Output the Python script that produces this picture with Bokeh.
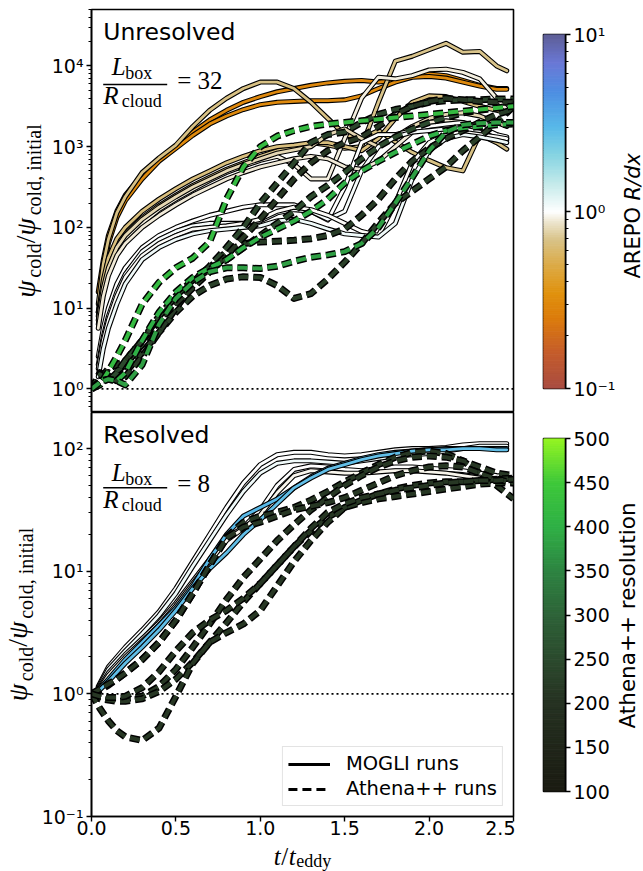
import numpy as np
from bokeh.plotting import figure
from bokeh.layouts import column, row
from bokeh.models import (FixedTicker, Label, Legend, LegendItem, Span, Range1d,
                          BoxAnnotation, NumeralTickFormatter)
from bokeh.embed import file_html
from bokeh.resources import INLINE

# ---------------------------------------------------------------------------
# Time samples, in units of t_eddy
# ---------------------------------------------------------------------------
t_mogli_32 = [0.04, 0.07, 0.1, 0.15, 0.2, 0.3, 0.4, 0.5, 0.6, 0.7, 0.8, 0.9, 1.0, 1.1,
              1.2, 1.3, 1.4, 1.5, 1.6, 1.7, 1.8, 1.9, 2.0, 2.1, 2.2, 2.3, 2.4, 2.46]
t_athena = [0.0, 0.05, 0.1, 0.15, 0.2, 0.3, 0.4, 0.5, 0.6, 0.7, 0.8, 0.9, 1.0, 1.1,
            1.2, 1.3, 1.4, 1.5, 1.6, 1.7, 1.8, 1.9, 2.0, 2.1, 2.2, 2.3, 2.4, 2.5]
t_mogli_8 = [0.04, 0.1, 0.2, 0.3, 0.4, 0.5, 0.6, 0.7, 0.8, 0.9, 1.0, 1.1, 1.2,
             1.3, 1.4, 1.5, 1.6, 1.7, 1.8, 1.9, 2.0, 2.1, 2.2, 2.3, 2.4, 2.46]

# ---------------------------------------------------------------------------
# Unresolved box (L_box / R_cloud = 32): log10(psi_cold / psi_cold,initial)
# MOGLI runs, each with its AREPO R/dx
# ---------------------------------------------------------------------------
u_orange_a = [1.20, 1.60, 1.90, 2.20, 2.40, 2.65, 2.85, 3.00, 3.18, 3.33, 3.45, 3.55, 3.62, 3.68,
              3.72, 3.76, 3.79, 3.81, 3.82, 3.80, 3.82, 3.87, 3.90, 3.88, 3.82, 3.76, 3.72, 3.72]
u_orange_b = [0.95, 1.45, 1.80, 2.12, 2.33, 2.60, 2.82, 2.98, 3.14, 3.28, 3.38, 3.46, 3.52, 3.55,
              3.56, 3.57, 3.57, 3.58, 3.63, 3.72, 3.80, 3.86, 3.87, 3.85, 3.80, 3.75, 3.71, 3.71]
u_tan_a = [1.05, 1.55, 1.85, 2.18, 2.38, 2.68, 2.86, 3.02, 3.25, 3.45, 3.60, 3.72, 3.80, 3.80,
           3.72, 3.55, 3.35, 3.15, 3.10, 3.20, 3.06, 2.93, 2.83, 2.74, 2.70, 3.15, 3.05, 2.97]
u_tan_b = [0.95, 1.30, 1.55, 1.78, 1.92, 2.12, 2.27, 2.40, 2.52, 2.62, 2.72, 2.80, 2.88, 2.95,
           3.00, 3.05, 3.02, 2.98, 3.00, 3.55, 4.06, 4.12, 4.20, 4.28, 4.17, 4.18, 4.00, 3.94]
u_cream = [0.80, 1.20, 1.45, 1.70, 1.85, 2.05, 2.22, 2.35, 2.47, 2.58, 2.68, 2.76, 2.83, 2.88,
           2.78, 2.60, 2.60, 3.10, 3.60, 3.86, 3.84, 3.88, 3.95, 3.96, 3.92, 3.84, 3.60, 3.46]
u_tan_c = [0.90, 1.35, 1.62, 1.86, 2.00, 2.20, 2.35, 2.48, 2.60, 2.70, 2.80, 2.88, 2.95, 3.00,
           3.02, 3.05, 3.05, 3.00, 2.95, 3.10, 3.35, 3.55, 3.63, 3.62, 3.56, 3.50, 3.45, 3.42]
u_beige = [0.85, 1.25, 1.50, 1.75, 1.90, 2.10, 2.25, 2.38, 2.50, 2.60, 2.70, 2.78, 2.85, 2.92,
           2.96, 3.00, 3.15, 3.22, 3.10, 3.00, 3.12, 3.25, 3.35, 3.40, 3.42, 3.38, 3.30, 3.25]
u_light = [0.75, 1.15, 1.40, 1.65, 1.80, 2.00, 2.15, 2.28, 2.40, 2.50, 2.60, 2.68, 2.75, 2.80,
           2.85, 2.88, 2.85, 2.75, 2.72, 2.82, 3.00, 3.18, 3.30, 3.32, 3.30, 3.20, 3.15, 3.10]
u_white_a = [0.40, 0.75, 1.00, 1.30, 1.50, 1.75, 1.90, 2.00, 2.08, 2.15, 2.20, 2.25, 2.28, 2.28,
             2.28, 2.20, 2.09, 2.50, 3.05, 3.15, 3.15, 3.20, 3.25, 3.28, 3.30, 3.25, 3.15, 3.12]
u_white_b = [0.30, 0.65, 0.90, 1.20, 1.42, 1.70, 1.85, 1.95, 2.02, 2.05, 2.05, 2.05, 2.08, 2.18,
             2.22, 2.20, 2.10, 2.20, 2.70, 3.00, 3.12, 3.18, 3.20, 3.22, 3.22, 3.18, 3.10, 3.08]
u_white_c = [0.25, 0.60, 0.85, 1.15, 1.38, 1.65, 1.80, 1.90, 1.98, 2.00, 2.02, 2.05, 2.10, 2.20,
             2.25, 2.22, 2.15, 2.05, 1.95, 1.90, 2.30, 2.80, 3.05, 3.15, 3.18, 3.15, 3.12, 3.10]
u_white_d = [0.15, 0.50, 0.75, 1.05, 1.30, 1.60, 1.75, 1.85, 1.92, 1.96, 1.98, 2.00, 2.02, 2.08,
             2.10, 2.05, 1.98, 1.92, 1.90, 1.88, 2.05, 2.60, 2.95, 3.10, 3.15, 3.12, 3.08, 3.05]

mogli_32_runs = [
    (0.3, u_orange_a), (0.31, u_orange_b), (0.68, u_tan_a), (0.7, u_tan_b),
    (0.92, u_cream), (0.66, u_tan_c), (0.8, u_beige), (0.9, u_light),
    (1.0, u_white_a), (1.05, u_white_b), (0.98, u_white_c), (1.1, u_white_d),
]

# Athena++ runs, each with its resolution
a32_bright_a = [0.00, 0.05, 0.22, 0.40, 0.60, 1.05, 1.32, 1.50, 1.62, 1.82, 2.35, 2.75, 3.00, 3.13,
                3.20, 3.25, 3.28, 3.30, 3.32, 3.34, 3.36, 3.38, 3.40, 3.42, 3.44, 3.46, 3.48, 3.50]
a32_bright_b = [0.00, 0.10, 0.12, 0.10, 0.20, 0.60, 0.95, 1.20, 1.38, 1.50, 1.60, 1.75, 1.88, 1.98,
                2.08, 2.20, 2.35, 2.55, 2.70, 2.82, 2.93, 3.03, 3.13, 3.20, 3.23, 3.25, 3.27, 3.28]
a32_bright_c = [0.00, 0.08, 0.12, 0.10, 0.05, 0.30, 0.80, 1.12, 1.32, 1.45, 1.50, 1.50, 1.49, 1.52,
                1.58, 1.63, 1.66, 1.70, 1.80, 2.00, 2.30, 2.62, 2.95, 3.18, 3.27, 3.29, 3.30, 3.30]
a32_dark_a = [0.00, 0.15, 0.20, 0.15, 0.20, 0.45, 0.70, 0.95, 1.15, 1.28, 1.36, 1.39, 1.38, 1.28,
              1.12, 1.18, 1.36, 1.57, 1.80, 2.06, 2.30, 2.45, 2.60, 2.75, 2.95, 3.12, 3.30, 3.50]
a32_dark_b = [0.00, 0.20, 0.15, 0.10, 0.15, 0.40, 0.70, 1.00, 1.28, 1.50, 1.70, 1.80, 1.82, 1.83,
              1.84, 1.86, 1.90, 1.98, 2.15, 2.35, 2.60, 2.82, 2.98, 3.10, 3.20, 3.30, 3.40, 3.46]
a32_dark_c = [0.00, 0.10, 0.20, 0.22, 0.30, 0.55, 0.85, 1.10, 1.32, 1.52, 1.75, 2.00, 2.30, 2.55,
              2.80, 3.05, 3.15, 3.18, 3.30, 3.40, 3.46, 3.50, 3.55, 3.57, 3.58, 3.58, 3.59, 3.59]
a32_dark_d = [0.00, 0.12, 0.25, 0.30, 0.35, 0.60, 0.85, 1.05, 1.25, 1.45, 1.65, 1.88, 2.10, 2.35,
              2.60, 2.80, 2.95, 3.05, 3.12, 3.25, 3.40, 3.50, 3.56, 3.60, 3.58, 3.56, 3.55, 3.55]
a32_dark_e = [0.00, 0.18, 0.10, 0.20, 0.35, 0.60, 0.90, 1.15, 1.35, 1.48, 1.60, 1.75, 1.90, 2.05,
              2.20, 2.38, 2.52, 2.68, 2.85, 3.00, 3.12, 3.22, 3.30, 3.36, 3.42, 3.45, 3.48, 3.50]

athena_32_runs = [
    (230, a32_dark_a), (220, a32_dark_b), (240, a32_dark_c), (210, a32_dark_d), (250, a32_dark_e),
    (420, a32_bright_a), (400, a32_bright_b), (380, a32_bright_c),
]

# ---------------------------------------------------------------------------
# Resolved box (L_box / R_cloud = 8)
# ---------------------------------------------------------------------------
r_white_a = [0.06, 0.22, 0.38, 0.52, 0.67, 0.86, 1.08, 1.30, 1.52, 1.72, 1.87, 1.95, 1.97,
             1.97, 1.95, 1.94, 1.95, 1.97, 1.99, 2.00, 2.00, 2.01, 2.03, 2.04, 2.04, 2.04]
r_white_b = [0.05, 0.20, 0.35, 0.49, 0.64, 0.82, 1.04, 1.25, 1.46, 1.65, 1.80, 1.88, 1.90,
             1.90, 1.89, 1.88, 1.90, 1.92, 1.94, 1.95, 1.96, 1.98, 2.00, 2.02, 2.02, 2.02]
r_white_c = [0.04, 0.17, 0.32, 0.45, 0.58, 0.74, 0.92, 1.10, 1.27, 1.36, 1.50, 1.70, 1.83,
             1.86, 1.85, 1.83, 1.82, 1.84, 1.85, 1.85, 1.84, 1.83, 1.82, 1.80, 1.78, 1.77]
r_white_d = [0.03, 0.15, 0.30, 0.43, 0.56, 0.72, 0.90, 1.08, 1.25, 1.35, 1.46, 1.64, 1.78,
             1.82, 1.81, 1.80, 1.80, 1.81, 1.82, 1.82, 1.81, 1.80, 1.78, 1.76, 1.75, 1.75]
r_blue_a = [0.03, 0.12, 0.28, 0.42, 0.56, 0.70, 0.88, 1.10, 1.30, 1.45, 1.52, 1.59, 1.68,
            1.77, 1.84, 1.88, 1.92, 1.95, 1.97, 1.98, 1.99, 2.00, 2.00, 2.00, 2.00, 2.00]
r_blue_b = [0.02, 0.10, 0.25, 0.38, 0.52, 0.68, 0.86, 1.02, 1.15, 1.30, 1.42, 1.55, 1.68,
            1.76, 1.83, 1.87, 1.91, 1.94, 1.96, 1.98, 1.99, 1.99, 2.00, 2.00, 1.99, 1.99]

mogli_8_runs = [
    (1.0, r_white_a), (1.1, r_white_b), (1.0, r_white_c), (0.95, r_white_d),
    (3.0, r_blue_a), (2.8, r_blue_b),
]

a8_a = [0.00, 0.03, 0.07, 0.12, 0.17, 0.28, 0.42, 0.60, 0.82, 1.05, 1.28, 1.40, 1.45, 1.48,
        1.52, 1.58, 1.65, 1.73, 1.80, 1.87, 1.93, 1.97, 1.98, 1.96, 1.90, 1.80, 1.70, 1.59]
a8_b = [0.00, -0.03, -0.04, -0.04, -0.04, -0.02, 0.06, 0.20, 0.38, 0.57, 0.77, 0.95, 1.10, 1.25,
        1.38, 1.50, 1.60, 1.70, 1.78, 1.85, 1.90, 1.93, 1.94, 1.93, 1.90, 1.85, 1.80, 1.78]
a8_c = [0.00, -0.04, -0.05, -0.06, -0.06, -0.04, 0.02, 0.12, 0.26, 0.42, 0.58, 0.75, 0.90, 1.05,
        1.20, 1.33, 1.44, 1.52, 1.58, 1.63, 1.67, 1.70, 1.72, 1.73, 1.73, 1.74, 1.75, 1.76]
a8_d = [0.00, -0.12, -0.22, -0.30, -0.35, -0.38, -0.28, -0.02, 0.25, 0.42, 0.50, 0.57, 0.68, 0.88,
        1.08, 1.25, 1.40, 1.52, 1.56, 1.59, 1.61, 1.63, 1.65, 1.67, 1.69, 1.71, 1.72, 1.72]
a8_e = [0.00, 0.04, 0.08, 0.12, 0.17, 0.28, 0.42, 0.60, 0.82, 1.05, 1.27, 1.36, 1.40, 1.45,
        1.50, 1.53, 1.56, 1.60, 1.66, 1.72, 1.78, 1.82, 1.85, 1.86, 1.85, 1.80, 1.75, 1.72]
a8_f = [0.00, -0.02, -0.03, -0.03, -0.02, 0.05, 0.18, 0.35, 0.50, 0.60, 0.68, 0.78, 0.90, 1.05,
        1.20, 1.35, 1.48, 1.55, 1.60, 1.63, 1.66, 1.68, 1.70, 1.72, 1.73, 1.74, 1.74, 1.75]

athena_8_runs = [(210, a8_a), (210, a8_b), (210, a8_c), (210, a8_d), (210, a8_e), (210, a8_f)]

# Axis ticks and labels
x_ticks = [0.0, 0.5, 1.0, 1.5, 2.0, 2.5]
y_ticks_32 = [1, 10, 100, 1000, 10000]
y_labels_32 = ["10⁰", "10¹", "10²", "10³", "10⁴"]
y_ticks_8 = [0.1, 1, 10, 100]
y_labels_8 = ["10⁻¹", "10⁰", "10¹", "10²"]
arepo_ticks = [0.1, 1, 10]
arepo_labels = ["10⁻¹", "10⁰", "10¹"]
athena_ticks = [100, 150, 200, 250, 300, 350, 400, 450, 500]

# ---------------------------------------------------------------------------
# Colour maps
# ---------------------------------------------------------------------------
AREPO_STOPS = [(0.0, "#a84c42"), (0.1, "#c45c2c"), (0.2, "#dc7c0c"), (0.27, "#e0920e"),
               (0.35, "#dcab48"), (0.42, "#d8c287"), (0.47, "#ece4cc"), (0.5, "#ffffff"),
               (0.58, "#c4eaea"), (0.66, "#86d4e2"), (0.74, "#58b8e8"), (0.84, "#4e8ee2"),
               (0.92, "#6a78d6"), (1.0, "#5e5e96")]
ATHENA_STOPS = [(0.0, "#1b1b12"), (0.25, "#263222"), (0.375, "#2c4a2e"), (0.5, "#2e6338"),
                (0.625, "#2e8442"), (0.75, "#2fb046"), (0.875, "#3ec83a"), (1.0, "#95f522")]


def blend(stops, f):
    f = min(max(f, 0.0), 1.0)
    for (f0, c0), (f1, c1) in zip(stops[:-1], stops[1:]):
        if f <= f1:
            w = 0.0 if f1 == f0 else (f - f0) / (f1 - f0)
            a = [int(c0[i:i + 2], 16) for i in (1, 3, 5)]
            b = [int(c1[i:i + 2], 16) for i in (1, 3, 5)]
            return "#%02x%02x%02x" % tuple(int(round(a[k] + w * (b[k] - a[k]))) for k in range(3))
    return stops[-1][1]


def arepo_color(rdx):
    return blend(AREPO_STOPS, (np.log10(rdx) + 1.0) / 2.0)


def athena_color(res):
    return blend(ATHENA_STOPS, (res - 100.0) / 400.0)


FONT = "DejaVu Sans"
SERIF = "Liberation Serif"
DASH = "10 5"
ROT = np.pi / 2
BASELINE_K = 0.37   # Label anchors sit this many em above the drawn baseline


def style(p):
    p.outline_line_color = "black"
    p.outline_line_width = 1.6
    p.background_fill_color = "white"
    p.border_fill_color = "white"
    p.xgrid.visible = False
    p.ygrid.visible = False
    for ax in p.axis:
        ax.axis_line_width = 1.6
        ax.major_tick_line_width = 1.4
        ax.minor_tick_line_width = 1.0
        ax.major_tick_out = 5
        ax.major_tick_in = 0
        ax.minor_tick_out = 3
        ax.minor_tick_in = 0
        ax.major_label_text_font = FONT
        ax.major_label_text_font_size = "19px"
        ax.major_label_text_color = "black"
        ax.major_label_standoff = 3


def text_canvas(w, h):
    f = figure(width=w, height=h, x_range=Range1d(0, w), y_range=Range1d(0, h),
               x_axis_location=None, y_axis_location=None, toolbar_location=None,
               output_backend="svg", min_border=0, frame_align=False)
    f.outline_line_color = None
    f.xgrid.visible = False
    f.ygrid.visible = False
    f.background_fill_color = "white"
    f.border_fill_color = "white"
    return f


def log_minors(lo_exp, hi_exp):
    return [m * 10.0 ** e for e in range(lo_exp, hi_exp + 1) for m in range(2, 10)]


def draw_run(p, t, logv, color, dashed):
    y = np.power(10.0, np.array(logv))
    if dashed:
        p.line(t, y, line_color="black", line_width=7.0, line_dash=DASH, line_cap="butt", line_join="round")
        p.line(t, y, line_color=color, line_width=4.0, line_dash=DASH, line_cap="butt", line_join="round")
    else:
        p.line(t, y, line_color="black", line_width=5.0, line_cap="round", line_join="round")
        p.line(t, y, line_color=color, line_width=2.8, line_cap="round", line_join="round")


def put(p, left, bottom, X, Y, text, size, font=FONT, fstyle="normal", angle=0.0):
    # (X, Y): page position where the text starts on its baseline; (left, bottom): frame corner
    if angle == 0.0:
        Y -= BASELINE_K * size
    else:
        X -= BASELINE_K * size
    p.add_layout(Label(x=X - left, y=bottom - Y, x_units="screen", y_units="screen",
                       text=text, text_font=font, text_font_size=f"{size}px",
                       text_font_style=fstyle, text_color="black", text_align="left",
                       text_baseline="alphabetic", angle=angle))


def psi_label(p, left, bottom, X_base, Y_center):
    pieces = [("ψ", 28, "italic", 0.72, 0.0), ("cold", 20, "normal", 1.722, 5.5),
              ("/", 28, "normal", 0.278, 0.0), ("ψ", 28, "italic", 0.72, 0.0),
              ("cold, initial", 20, "normal", 4.556, 5.5)]
    total = sum(sz * w for _, sz, _, w, _ in pieces)
    Y = Y_center + total / 2.0
    for text, sz, fs, w, shift in pieces:
        put(p, left, bottom, X_base + shift, Y, text, sz, SERIF, fs, angle=ROT)
        Y -= sz * w


def ratio_label(p, left, bottom, X0, Y_L, Y_bar, Y_R, Y_eq, rhs):
    put(p, left, bottom, X0 + 8.5, Y_L, "L", 25, SERIF, "italic")
    put(p, left, bottom, X0 + 22, Y_L + 3, "box", 18, SERIF)
    put(p, left, bottom, X0, Y_R, "R", 25, SERIF, "italic")
    put(p, left, bottom, X0 + 18.5, Y_R + 3, "cloud", 18, SERIF)
    p.add_layout(BoxAnnotation(left=X0 - left, right=X0 + 64 - left,
                               bottom=bottom - Y_bar - 0.7, top=bottom - Y_bar + 0.7,
                               left_units="screen", right_units="screen",
                               bottom_units="screen", top_units="screen",
                               fill_color="black", fill_alpha=1.0, line_color=None))
    put(p, left, bottom, X0 + 74, Y_eq, "= " + rhs, 25, SERIF)


def colour_strip(p, edges, colors):
    p.quad(left=0, right=1, bottom=edges[:-1], top=edges[1:],
           fill_color=colors, line_color=colors, line_width=1)


# page rows: [0, 412], [412, 843], [843, 871]
ROW1_BOTTOM, ROW2_BOTTOM, PAGE_BOTTOM = 412, 843, 871
FRAME_L = 91

# ---------------------------------------------------------------------------
# Upper panel: unresolved
# ---------------------------------------------------------------------------
YLAB1_W = 46
x_range = Range1d(0.0, 2.5)
p1 = figure(frame_width=422, frame_height=403, x_range=x_range, y_range=Range1d(0.51, 5.0e4),
            y_axis_type="log", x_axis_location=None, output_backend="svg",
            toolbar_location=None, min_border_left=FRAME_L - YLAB1_W, min_border_right=2,
            min_border_top=9, min_border_bottom=0, frame_align=False)
style(p1)
p1.yaxis.ticker = FixedTicker(ticks=y_ticks_32, minor_ticks=log_minors(-1, 4))
p1.yaxis.major_label_overrides = dict(zip(y_ticks_32, y_labels_32))
p1.add_layout(Span(location=1.0, dimension="width", line_color="black", line_width=1.8,
                   line_dash="2 3", level="underlay"))
for rdx, vals in mogli_32_runs:
    draw_run(p1, t_mogli_32, vals, arepo_color(rdx), dashed=False)
for res, vals in athena_32_runs:
    draw_run(p1, t_athena, vals, athena_color(res), dashed=True)

put(p1, FRAME_L, ROW1_BOTTOM, 102.7, 39.7, "Unresolved", 23.5)
ratio_label(p1, FRAME_L, ROW1_BOTTOM, 102.7, 75.7, 84.0, 104.0, 89.0, "32")

ylab1 = text_canvas(YLAB1_W, 412)
psi_label(ylab1, 0, ROW1_BOTTOM, 35.5, 210.5)

# ---------------------------------------------------------------------------
# Lower panel: resolved
# ---------------------------------------------------------------------------
YLAB2_W = 38
P2_FRAME_BOTTOM = 816
p2 = figure(frame_width=422, frame_height=404, x_range=x_range, y_range=Range1d(0.1, 197.0),
            y_axis_type="log", output_backend="svg", toolbar_location=None,
            min_border_left=FRAME_L - YLAB2_W, min_border_right=2, min_border_top=0,
            min_border_bottom=ROW2_BOTTOM - P2_FRAME_BOTTOM, frame_align=False)
style(p2)
p2.xaxis.ticker = FixedTicker(ticks=x_ticks, minor_ticks=[])
p2.xaxis.formatter = NumeralTickFormatter(format="0.0")
p2.xaxis.major_label_standoff = -1
p2.yaxis.ticker = FixedTicker(ticks=y_ticks_8, minor_ticks=log_minors(-1, 2))
p2.yaxis.major_label_overrides = dict(zip(y_ticks_8, y_labels_8))
p2.add_layout(Span(location=1.0, dimension="width", line_color="black", line_width=1.8,
                   line_dash="2 3", level="underlay"))
for rdx, vals in mogli_8_runs:
    draw_run(p2, t_mogli_8, vals, arepo_color(rdx), dashed=False)
for res, vals in athena_8_runs:
    draw_run(p2, t_athena, vals, athena_color(res), dashed=True)

put(p2, FRAME_L, P2_FRAME_BOTTOM, 102.7, 443.3, "Resolved", 23.5)
ratio_label(p2, FRAME_L, P2_FRAME_BOTTOM, 102.7, 481.7, 487.3, 508.0, 492.7, "8")

# legend keys: hidden copies of a run of each code, shown only in the legend
key_solid = p2.line(t_mogli_8, np.power(10.0, np.array(r_white_a)), line_color="black",
                    line_width=2.8, visible=False)
key_dash = p2.line(t_athena, np.power(10.0, np.array(a8_a)), line_color="black",
                   line_width=2.8, line_dash="9 5", visible=False)
legend = Legend(items=[LegendItem(label="MOGLI runs", renderers=[key_solid]),
                       LegendItem(label="Athena++ runs", renderers=[key_dash])],
                location="bottom_right", margin=10, padding=5, spacing=2,
                glyph_width=42, glyph_height=20, label_height=20, label_standoff=16,
                label_text_font=FONT, label_text_font_size="19.5px", label_text_color="black",
                border_line_color="#c8c8c8", border_line_width=1.5,
                background_fill_color="white", background_fill_alpha=0.85)
p2.add_layout(legend)

ylab2 = text_canvas(YLAB2_W, ROW2_BOTTOM - ROW1_BOTTOM)
psi_label(ylab2, 0, ROW2_BOTTOM, 27.0, 614.0)

# x-axis label t / t_eddy, centred under the frame
xlab = text_canvas(643, PAGE_BOTTOM - ROW2_BOTTOM)
x_pieces = [("t", 25, "italic", 0.3, 0), ("/", 25, "normal", 0.3, 0),
            ("t", 25, "italic", 0.3, 0), ("eddy", 18, "normal", 1.944, 2)]
x_total = sum(sz * w for _, sz, _, w, _ in x_pieces)
X = 302.0 - x_total / 2.0
for text, sz, fs, w, drop in x_pieces:
    put(xlab, 0, PAGE_BOTTOM, X, 865.0 + drop, text, sz, SERIF, fs)
    X += sz * w

# ---------------------------------------------------------------------------
# Colour bars
# ---------------------------------------------------------------------------
N_LEVELS = 200
c1 = figure(frame_width=22, frame_height=354, x_range=Range1d(0, 1), y_range=Range1d(0.1, 10.0),
            y_axis_type="log", y_axis_location="right", x_axis_location=None,
            output_backend="svg", toolbar_location=None, min_border_left=28,
            min_border_right=50, min_border_top=34, min_border_bottom=24, frame_align=False)
style(c1)
edges = np.logspace(-1, 1, N_LEVELS + 1)
colour_strip(c1, edges, [arepo_color(v) for v in np.sqrt(edges[:-1] * edges[1:])])
c1.yaxis.ticker = FixedTicker(ticks=arepo_ticks, minor_ticks=log_minors(-1, 0))
c1.yaxis.major_label_overrides = dict(zip(arepo_ticks, arepo_labels))

cb1_lab = text_canvas(28, 412)
put(cb1_lab, 615, ROW1_BOTTOM, 637.0, 278.0, "AREPO ", 21, FONT, "normal", angle=ROT)
put(cb1_lab, 615, ROW1_BOTTOM, 637.0, 200.0, "R/dx", 21, FONT, "italic", angle=ROT)

c2 = figure(frame_width=22, frame_height=353, x_range=Range1d(0, 1), y_range=Range1d(100, 500),
            y_axis_location="right", x_axis_location=None,
            output_backend="svg", toolbar_location=None, min_border_left=28,
            min_border_right=46, min_border_top=26,
            min_border_bottom=ROW2_BOTTOM - ROW1_BOTTOM - 26 - 353, frame_align=False)
style(c2)
edges2 = np.linspace(100, 500, N_LEVELS + 1)
colour_strip(c2, edges2, [athena_color(v) for v in 0.5 * (edges2[:-1] + edges2[1:])])
c2.yaxis.ticker = FixedTicker(ticks=athena_ticks, minor_ticks=[])

cb2_lab = text_canvas(32, ROW2_BOTTOM - ROW1_BOTTOM)
put(cb2_lab, 611, ROW2_BOTTOM, 633.5, 728.0, "Athena++ resolution", 21.5, FONT, "normal", angle=ROT)

layout = column(row(ylab1, p1, c1, cb1_lab), row(ylab2, p2, c2, cb2_lab), xlab)
open("out.html", "w").write(file_html(layout, INLINE))
